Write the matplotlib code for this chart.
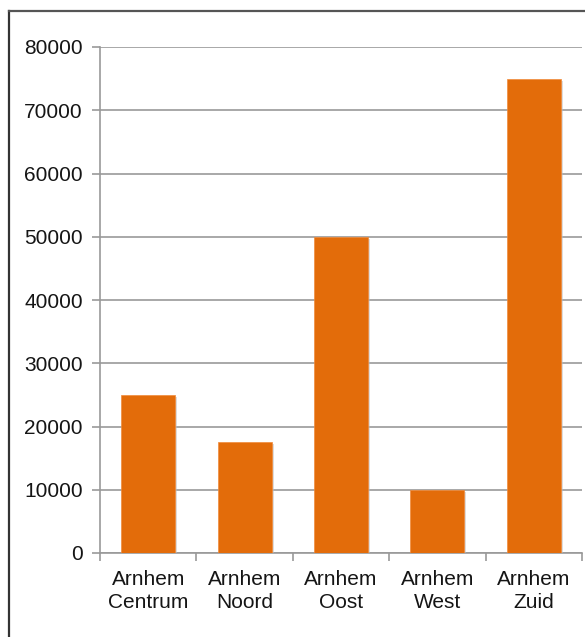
import matplotlib
matplotlib.use("Agg")
import matplotlib.pyplot as plt
import matplotlib.patheffects as pe

categories = ["Arnhem\nCentrum", "Arnhem\nNoord", "Arnhem\nOost", "Arnhem\nWest", "Arnhem\nZuid"]
values = [25000, 17500, 50000, 10000, 75000]
yticks = [0, 10000, 20000, 30000, 40000, 50000, 60000, 70000, 80000]

plt.rcParams['font.family'] = ['Liberation Sans', 'DejaVu Sans']

fig = plt.figure(figsize=(5.85, 6.37), dpi=100)
# outer frame (left and top borders)
fig.add_artist(plt.Line2D([9/585, 9/585], [0, 1 - 11/637], transform=fig.transFigure, color='#333333', lw=1.6))
fig.add_artist(plt.Line2D([9/585, 1], [1 - 11/637, 1 - 11/637], transform=fig.transFigure, color='#555555', lw=1.6))

ax = fig.add_axes([100/585, 1 - 553/637, 482/585, (553 - 47)/637])
x = list(range(len(categories)))
bars = ax.bar(x, values, width=0.56, color='#E36C0A', zorder=3,
              edgecolor='#F08A3A', linewidth=0.5)
for b in bars:
    b.set_path_effects([pe.SimplePatchShadow(offset=(1.5, -1.5), shadow_rgbFace='#bbbbbb', alpha=0.5), pe.Normal()])
ax.set_xlim(-0.5, len(categories) - 0.5)
ax.set_ylim(0, 80000)
ax.set_yticks(yticks)
ax.set_yticklabels([str(v) for v in yticks])
ax.yaxis.grid(True, color='#999999', lw=1.2, zorder=0)
ax.set_axisbelow(True)
for s in ['top', 'right']:
    ax.spines[s].set_visible(False)
ax.spines['left'].set_color('#999999')
ax.spines['bottom'].set_color('#999999')
ax.spines['left'].set_linewidth(1.2)
ax.spines['bottom'].set_linewidth(1.2)

ax.set_xticks([i - 0.5 for i in range(len(categories) + 1)])
ax.set_xticklabels([])
ax.set_xticks(x, minor=True)
ax.set_xticklabels(categories, minor=True, fontsize=15, color='#151515', linespacing=1.3)
ax.tick_params(axis='x', which='major', length=6, color='#999999', width=1.2, direction='out')
ax.tick_params(axis='x', which='minor', length=0, pad=12)
ax.tick_params(axis='y', length=6, color='#999999', width=1.2, labelsize=15, labelcolor='#151515', pad=6.5)

fig.savefig("out.png", dpi=100)
